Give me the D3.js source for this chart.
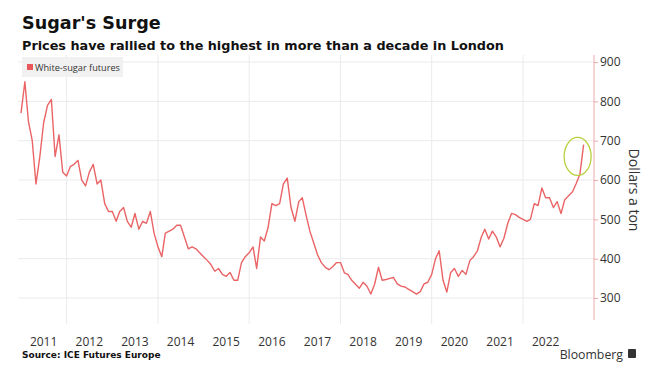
<!DOCTYPE html>
<html>
<head>
<meta charset="utf-8">
<script src="https://cdn.jsdelivr.net/npm/d3@7"></script>
<style>
  html, body { margin: 0; padding: 0; background: #fff; }
  svg { display: block; }
  .title { font-family: "DejaVu Sans", Verdana, sans-serif; font-weight: bold; fill: #111; }
  .lbl { font-family: "Open Sans", "Noto Sans", sans-serif; fill: #333; }
</style>
</head>
<body>
<svg id="chart" width="660" height="386"></svg>
<script>
// monthly white-sugar futures, $/ton, starting Jan 2011
const startMonth = new Date(2011, 0, 1);
const prices = [
  770, 850, 750, 700, 590, 660, 745, 790, 805, 660, 715, 620, // 2011
  610, 635, 640, 650, 600, 585, 620, 640, 590, 600, 540, 520, // 2012
  520, 495, 520, 530, 495, 480, 515, 475, 495, 490, 520, 465, // 2013
  430, 405, 465, 470, 475, 485, 485, 455, 425, 430, 425, 415, // 2014
  405, 395, 385, 368, 375, 360, 355, 365, 345, 345, 390, 405, // 2015
  415, 430, 375, 455, 445, 480, 540, 535, 540, 590, 605, 530, // 2016
  495, 545, 555, 510, 470, 440, 410, 390, 378, 372, 380, 390, // 2017
  390, 364, 360, 345, 335, 325, 340, 330, 310, 335, 378, 345, // 2018
  347, 350, 352, 336, 330, 328, 322, 316, 310, 316, 336, 340, // 2019
  360, 400, 420, 345, 315, 365, 375, 355, 370, 360, 395, 405, // 2020
  420, 455, 475, 450, 470, 455, 430, 452, 490, 515, 512, 505, // 2021
  500, 495, 500, 540, 535, 580, 555, 555, 530, 545, 515, 550, // 2022
  560, 570, 590, 615, 690                                      // 2023
];
const yTicks = [300, 400, 500, 600, 700, 800, 900];
const gridYears = [2012, 2014, 2016, 2018, 2020, 2022];
const labelYears = [2011, 2012, 2013, 2014, 2015, 2016, 2017, 2018, 2019, 2020, 2021, 2022];
const seriesName = "White-sugar futures";

const data = prices.map((v, i) => ({ date: d3.timeMonth.offset(startMonth, i), value: v }));
const peak = data[data.length - 1];

const svg = d3.select("#chart");
const plotLeft = 21, plotRight = 594, plotTop = 55, plotBottom = 320;

const x = d3.scaleTime()
  .domain([new Date(2011, 0, 1), new Date(2023, 6, 23)])
  .range([plotLeft, plotRight]);
const y = d3.scaleLinear().domain([244, 918]).range([plotBottom, plotTop]);

// ---------- grid ----------
svg.append("g")
  .selectAll("line")
  .data(yTicks)
  .join("line")
  .attr("x1", plotLeft - 3).attr("x2", plotRight)
  .attr("y1", (d) => y(d)).attr("y2", (d) => y(d))
  .attr("stroke", "#ebebeb").attr("stroke-width", 1);

svg.append("g")
  .selectAll("line")
  .data(gridYears)
  .join("line")
  .attr("x1", (d) => x(new Date(d, 0, 1))).attr("x2", (d) => x(new Date(d, 0, 1)))
  .attr("y1", plotTop).attr("y2", plotBottom + 4)
  .attr("stroke", "#ebebeb").attr("stroke-width", 1);

// ---------- legend ----------
svg.append("rect").attr("x", 22).attr("y", 57).attr("width", 101).attr("height", 20).attr("fill", "#f1f1f1");
svg.append("rect").attr("x", 27).attr("y", 64).attr("width", 6).attr("height", 6).attr("fill", "#e8585a");
svg.append("text").attr("class", "lbl").attr("x", 35).attr("y", 71)
  .attr("font-size", 9.2).attr("fill", "#444").text(seriesName);

// ---------- line ----------
const line = d3.line().x((d) => x(d.date)).y((d) => y(d.value));
svg.append("path")
  .datum(data)
  .attr("d", line)
  .attr("fill", "none")
  .attr("stroke", "#ea6466")
  .attr("stroke-width", 1.4)
  .attr("stroke-linejoin", "round");

// highlight ring round the latest spike
svg.append("ellipse")
  .attr("cx", x(peak.date) - 6).attr("cy", y(660))
  .attr("rx", 13.5).attr("ry", 19)
  .attr("fill", "none").attr("stroke", "#b7d13c").attr("stroke-width", 1.3);

// ---------- right axis ----------
const yAxis = svg.append("g")
  .attr("transform", `translate(${plotRight},0)`)
  .call(d3.axisRight(y).tickValues(yTicks).tickSize(4).tickPadding(2));
yAxis.select(".domain").attr("stroke", "#ebaaaa").attr("d", `M0,${plotTop}V${plotBottom}`);
yAxis.selectAll(".tick line").attr("stroke", "#ebaaaa");
yAxis.selectAll(".tick text")
  .attr("font-family", "'Open Sans', 'Noto Sans', sans-serif")
  .attr("font-size", 12).attr("fill", "#333");

svg.append("text").attr("class", "lbl")
  .attr("transform", `translate(629,190) rotate(90)`)
  .attr("text-anchor", "middle").attr("font-size", 14).attr("fill", "#222")
  .text("Dollars a ton");

// ---------- x labels ----------
svg.append("g")
  .selectAll("text")
  .data(labelYears)
  .join("text")
  .attr("class", "lbl")
  .attr("x", (d) => x(new Date(d, 6, 1)))
  .attr("y", 346)
  .attr("text-anchor", "middle")
  .attr("font-size", 12)
  .text((d) => d);

// ---------- titles ----------
svg.append("text").attr("class", "title").attr("x", 22).attr("y", 29).attr("font-size", 17.6).text("Sugar's Surge");
svg.append("text").attr("class", "title").attr("x", 22).attr("y", 50).attr("font-size", 12.8)
  .text("Prices have rallied to the highest in more than a decade in London");
svg.append("text").attr("class", "title").attr("x", 22).attr("y", 358).attr("font-size", 9)
  .text("Source: ICE Futures Europe");

svg.append("text").attr("class", "lbl").attr("x", 623).attr("y", 359)
  .attr("text-anchor", "end").attr("font-size", 12.3).attr("fill", "#111").text("Bloomberg");
svg.append("rect").attr("x", 628).attr("y", 349).attr("width", 8).attr("height", 9).attr("rx", 1).attr("fill", "#333");
</script>
</body>
</html>
